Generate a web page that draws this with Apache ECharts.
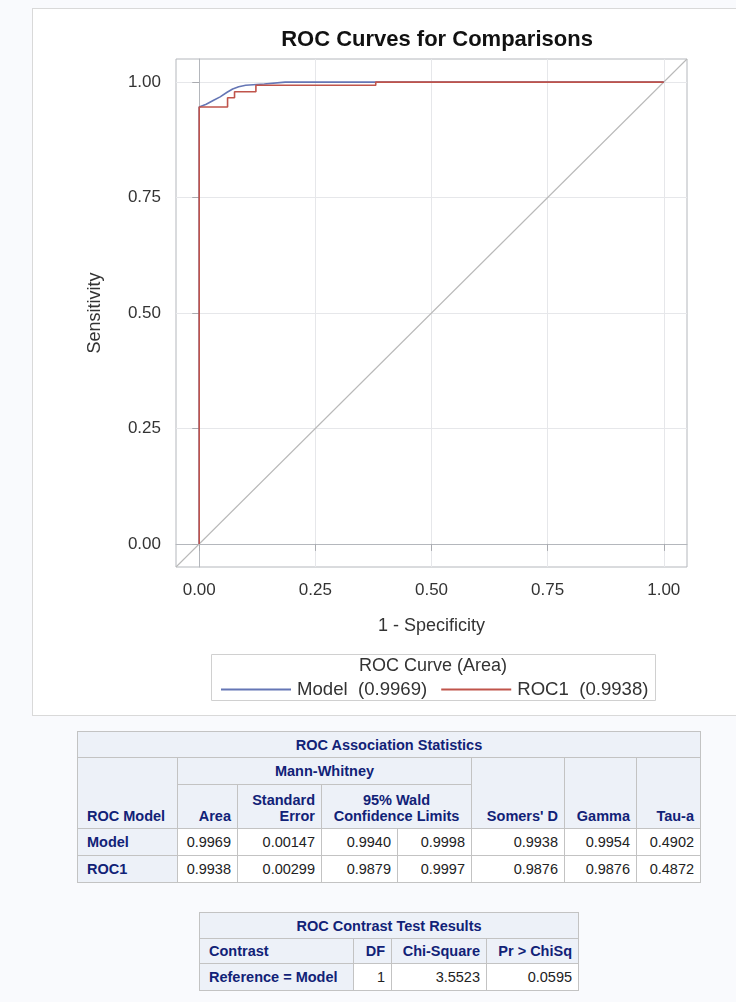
<!DOCTYPE html>
<html><head><meta charset="utf-8">
<script src="https://cdn.jsdelivr.net/npm/echarts@6/dist/echarts.min.js"></script>
<style>
body{margin:0;background:#f9fafd;width:736px;height:1002px;overflow:hidden;position:relative;font-family:"Liberation Sans",Arial,sans-serif;}
#frame{position:absolute;left:32px;top:8px;width:730px;height:708px;background:#fff;border:1px solid #d9d9d9;box-sizing:border-box;}
#chart{position:absolute;left:0;top:0;width:736px;height:720px;}
table{position:absolute;border-collapse:collapse;table-layout:fixed;font-size:14.5px;}
td,th{border:1px solid #c3c3c3;padding:0 6px;white-space:nowrap;overflow:hidden;}
th{background:#edf1f8;color:#112277;font-weight:bold;text-align:right;vertical-align:bottom;padding-bottom:4px;}
td{background:#fff;color:#222;text-align:right;vertical-align:middle;}
th.rh{text-align:left;vertical-align:middle;padding-bottom:0;padding-left:9px;}
th.ttl{text-align:center;vertical-align:middle;padding-bottom:0;font-weight:bold;}
th.c{text-align:center;}
th.l{text-align:left;padding-left:9px;}
</style></head>
<body>
<div id="frame"></div>
<div id="chart"></div>
<table id="t1"></table>
<table id="t2"></table>
<script>
// ---- chart data ----
const xTicks = [0, 0.25, 0.5, 0.75, 1];
const yTicks = [0, 0.25, 0.5, 0.75, 1];
const modelName = 'Model  (0.9969)';
const roc1Name = 'ROC1  (0.9938)';
const modelFpr = [0, 0, 0.015, 0.03, 0.045, 0.06, 0.072, 0.085, 0.1, 0.14, 0.185, 1];
const modelTpr = [0, 0.946, 0.952, 0.960, 0.968, 0.978, 0.985, 0.990, 0.993, 0.996, 1.0, 1.0];
const roc1Fpr = [0, 0, 0.061, 0.076, 0.122, 0.38, 1];
const roc1Tpr = [0, 0.946, 0.966, 0.979, 0.993, 1.0, 1.0];
const refX = [-0.05, 1.05];
const refY = [-0.05, 1.05];

// ---- table data ----
const assocTitle = 'ROC Association Statistics';
const assocModels = ['Model', 'ROC1'];
const assocArea = ['0.9969', '0.9938'];
const assocStdErr = ['0.00147', '0.00299'];
const assocLower = ['0.9940', '0.9879'];
const assocUpper = ['0.9998', '0.9997'];
const assocSomers = ['0.9938', '0.9876'];
const assocGamma = ['0.9954', '0.9876'];
const assocTau = ['0.4902', '0.4872'];
const contrastTitle = 'ROC Contrast Test Results';
const contrastLabels = ['Reference = Model'];
const contrastDF = ['1'];
const contrastChi = ['3.5523'];
const contrastP = ['0.0595'];

const zip = (a, b) => a.map((v, i) => [v, b[i]]);
const FONT = '"Liberation Sans", Arial, sans-serif';
const BLUE = '#6576b5', RED = '#c0544b';

const chart = echarts.init(document.getElementById('chart'), null, {renderer: 'canvas'});
const axisCommon = {
  type: 'value', min: -0.05, max: 1.05,
  axisLine: {show: true, lineStyle: {color: '#b4b7bc', width: 1}},
  axisTick: {show: true, length: 7, lineStyle: {color: '#a9abb0'}},
  axisLabel: {fontSize: 17, color: '#333', fontFamily: FONT, formatter: v => v.toFixed(2)},
  splitLine: {show: true, lineStyle: {color: '#e6e7ea', width: 1}},
  nameLocation: 'middle',
  nameTextStyle: {fontSize: 18, color: '#333', fontFamily: FONT}
};
chart.setOption({
  animation: false,
  textStyle: {fontFamily: FONT},
  title: {text: 'ROC Curves for Comparisons', left: 432, top: 24, textAlign: 'center',
    textStyle: {fontSize: 22, fontWeight: 'bold', color: '#111', fontFamily: FONT}},
  grid: {left: 176, right: 49, top: 59, bottom: 153, show: true, borderColor: '#b4b7bc', borderWidth: 1, containLabel: false},
  xAxis: Object.assign({}, axisCommon, {
    name: '1 - Specificity', nameGap: 50,
    axisTick: Object.assign({}, axisCommon.axisTick, {customValues: xTicks}),
    axisLabel: Object.assign({}, axisCommon.axisLabel, {customValues: xTicks, margin: 15})
  }),
  yAxis: Object.assign({}, axisCommon, {
    name: 'Sensitivity', nameGap: 72,
    axisTick: Object.assign({}, axisCommon.axisTick, {customValues: yTicks}),
    axisLabel: Object.assign({}, axisCommon.axisLabel, {customValues: yTicks, margin: 15})
  }),
  legend: {
    left: 221, top: 680, padding: 0, itemWidth: 70, itemHeight: 2, itemGap: 14, icon: 'rect',
    data: [modelName, roc1Name],
    textStyle: {fontSize: 18.6, color: '#333', fontFamily: FONT, padding: [0, 0, 0, 1]}
  },
  graphic: [
    {type: 'rect', shape: {x: 211.5, y: 654.5, width: 444, height: 46}, style: {fill: 'none', stroke: '#d0d0d0', lineWidth: 1}, silent: true},
    {type: 'text', x: 433, y: 666, style: {text: 'ROC Curve (Area)', fontSize: 18, fill: '#333', fontFamily: FONT, align: 'center', verticalAlign: 'middle'}, silent: true}
  ],
  series: [
    {type: 'line', name: 'ref', data: zip(refX, refY), symbol: 'none', silent: true,
      lineStyle: {color: '#b9b9b9', width: 1.1}, z: 1},
    {type: 'line', name: modelName, data: zip(modelFpr, modelTpr), symbol: 'none',
      lineStyle: {color: BLUE, width: 1.6}, itemStyle: {color: BLUE}, z: 2},
    {type: 'line', name: roc1Name, data: zip(roc1Fpr, roc1Tpr), symbol: 'none', step: 'end',
      lineStyle: {color: RED, width: 1.6}, itemStyle: {color: RED}, z: 3}
  ]
});

// ---- tables ----
function th(txt, cls, extra) { return '<th' + (cls ? ' class="' + cls + '"' : '') + (extra || '') + '>' + txt + '</th>'; }
function td(txt) { return '<td>' + txt + '</td>'; }
const t1 = document.getElementById('t1');
t1.style.left = '77px'; t1.style.top = '731px'; t1.style.width = '623px';
let h1 = '<colgroup>' + [100, 60, 84, 76, 74, 93, 72, 64].map(w => '<col style="width:' + w + 'px">').join('') + '</colgroup>';
h1 += '<tr style="height:26px">' + th(assocTitle, 'ttl', ' colspan="8"') + '</tr>';
h1 += '<tr style="height:27px">' + th('ROC Model', 'l', ' rowspan="2"') + th('Mann-Whitney', 'ttl', ' colspan="4"') +
  th("Somers' D", '', ' rowspan="2"') + th('Gamma', '', ' rowspan="2"') + th('Tau-a', '', ' rowspan="2"') + '</tr>';
h1 += '<tr style="height:44px">' + th('Area') + th('Standard<br>Error') + th('95% Wald<br>Confidence Limits', 'c', ' colspan="2"') + '</tr>';
assocModels.forEach((m, i) => {
  h1 += '<tr style="height:27px">' + th(m, 'rh') + td(assocArea[i]) + td(assocStdErr[i]) + td(assocLower[i]) + td(assocUpper[i]) +
    td(assocSomers[i]) + td(assocGamma[i]) + td(assocTau[i]) + '</tr>';
});
t1.innerHTML = h1;

const t2 = document.getElementById('t2');
t2.style.left = '199px'; t2.style.top = '912px'; t2.style.width = '379px';
let h2 = '<colgroup>' + [154, 38, 95, 92].map(w => '<col style="width:' + w + 'px">').join('') + '</colgroup>';
h2 += '<tr style="height:26px">' + th(contrastTitle, 'ttl', ' colspan="4"') + '</tr>';
h2 += '<tr style="height:25px">' + th('Contrast', 'rh') + th('DF') + th('Chi-Square') + th('Pr &gt; ChiSq') + '</tr>';
contrastLabels.forEach((c, i) => {
  h2 += '<tr style="height:27px">' + th(c, 'rh') + td(contrastDF[i]) + td(contrastChi[i]) + td(contrastP[i]) + '</tr>';
});
t2.innerHTML = h2;
</script>
</body></html>
